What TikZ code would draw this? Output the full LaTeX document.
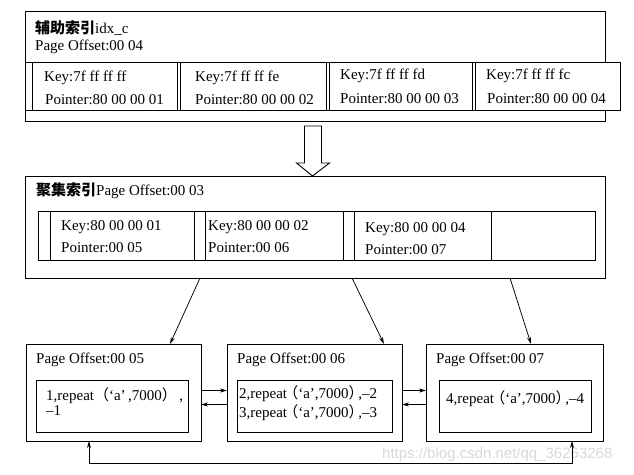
\documentclass[tikz,border=0pt]{standalone}
\usepackage{fontspec}
\setmainfont{Liberation Serif}
\newfontfamily\cjk{Noto Sans CJK SC}
\newfontfamily\wmfont{Liberation Sans}
\usetikzlibrary{arrows.meta}
\newcommand\myLP{\hspace{-0.25em}{\cjk （}}
\newcommand\myRP{{\cjk ）}\hspace{-0.35em}}
\newcommand\myLPw{{\cjk （}}
\newcommand\myRPw{{\cjk ）}}
\begin{document}
\begin{tikzpicture}[x=1pt,y=-1pt,
  box/.style={draw,line width=0.9pt,inner sep=0pt,outer sep=0pt,anchor=north west},
  txt/.style={anchor=west,inner sep=0pt,font=\fontsize{15}{16}\selectfont},
  arr/.style={-{Stealth[length=7pt,width=4pt]},line width=0.75pt},
  arrb/.style={{Stealth[length=7pt,width=4pt]}-{Stealth[length=7pt,width=4pt]},line width=0.75pt}]
\useasboundingbox (0,0) rectangle (634,474);
\fill[white] (0,0) rectangle (634,474);
% watermark
\node[anchor=west,inner sep=0pt,text=gray!30,font=\wmfont\fontsize{15}{15}\selectfont] (wm) at (382,455) {https://blog.csdn.net/qq\_36263268};
% ---------- top box ----------
\node[box,minimum width=580pt,minimum height=110pt] (top) at (25,11) {};
\node[txt] (toptitle) at (35,28) {{\cjk\bfseries 辅助索引}idx\_c};
\node[txt] (toppo) at (35,46.5) {Page Offset:00 04};
\node[box,fill=white,minimum width=595pt,minimum height=48pt] (krow) at (25,62) {};
\node[box,minimum width=145pt,minimum height=48pt] (k1) at (32,62) {};
\node[box,minimum width=146pt,minimum height=48pt] (k2) at (180,62) {};
\node[box,minimum width=143pt,minimum height=48pt] (k3) at (329,62) {};
\node[box,minimum width=145pt,minimum height=48pt] (k4) at (475,62) {};
\node[txt] (k1a) at (44,78) {Key:7f ff ff ff};
\node[txt] (k1b) at (45,100) {Pointer:80 00 00 01};
\node[txt] (k2a) at (195,78) {Key:7f ff ff fe};
\node[txt] (k2b) at (195,100) {Pointer:80 00 00 02};
\node[txt] (k3a) at (340,76) {Key:7f ff ff fd};
\node[txt] (k3b) at (340,99) {Pointer:80 00 00 03};
\node[txt] (k4a) at (486,76) {Key:7f ff ff fc};
\node[txt] (k4b) at (487,99) {Pointer:80 00 00 04};
% ---------- middle box ----------
\node[box,minimum width=580pt,minimum height=102pt] (mid) at (25,176) {};
\node[txt] (midtitle) at (36,191) {{\cjk\bfseries 聚集索引}Page Offset:00 03};
\node[box,minimum width=557pt,minimum height=49pt] (mrow) at (38,211) {};
\node[box,minimum width=144pt,minimum height=49pt] (c1) at (50,211) {};
\node[box,minimum width=138pt,minimum height=49pt] (c2) at (205,211) {};
\node[box,minimum width=137pt,minimum height=49pt] (c3) at (354,211) {};
\node[box,minimum width=104pt,minimum height=49pt] (c4) at (491,211) {};
\node[txt] (c1a) at (61,227) {Key:80 00 00 01};
\node[txt] (c1b) at (61,248) {Pointer:00 05};
\node[txt] (c2a) at (208,227) {Key:80 00 00 02};
\node[txt] (c2b) at (208,248) {Pointer:00 06};
\node[txt] (c3a) at (365,229) {Key:80 00 00 04};
\node[txt] (c3b) at (365,250) {Pointer:00 07};
% hollow arrow
\coordinate (tip) at (312.5,176);
\draw[line width=0.9pt,fill=white] (tip) -- ++(-16,-13) -- ++(8,0) -- ++(0,-37) -- ++(17,0) -- ++(0,37) -- ++(8,0) -- cycle;
% ---------- bottom boxes ----------
\node[box,minimum width=175pt,minimum height=97pt] (A) at (26,344) {};
\node[box,minimum width=152pt,minimum height=52pt] (Ai) at (36,380) {};
\node[box,minimum width=175pt,minimum height=97pt] (B) at (227,344) {};
\node[box,minimum width=155pt,minimum height=52pt] (Bi) at (237,380) {};
\node[box,minimum width=177pt,minimum height=97pt] (C) at (426,344) {};
\node[box,minimum width=152pt,minimum height=52pt] (Ci) at (439,380) {};
\node[txt] (At) at (36,360) {Page Offset:00 05};
\node[txt] (Bt) at (237,360) {Page Offset:00 06};
\node[txt] (Ct) at (436,360) {Page Offset:00 07};
\node[txt] (A1) at (46,396) {1,repeat\myLPw‘a’\,,7000\myRPw\,,};
\node[txt] (A2) at (46,411) {--1};
\node[txt] (B1) at (239,394) {2,repeat\myLP‘a’,7000\myRP,--2};
\node[txt] (B2) at (239,413) {3,repeat\myLP‘a’,7000\myRP,--3};
\node[txt] (C1) at (446,399) {4,repeat\myLP‘a’,7000\myRP,--4};
% ---------- connectors ----------
\draw[arr] ([xshift=175pt]mid.south west) -- ([xshift=144pt]A.north west);
\draw[arr] ([xshift=327pt]mid.south west) -- ([xshift=157pt]B.north west);
\draw[arr] ([xshift=485pt]mid.south west) -- ([xshift=105pt]C.north west);
\draw[arr] ([yshift=2pt]A.east) -- ([yshift=2pt]B.west);
\draw[arr] ([yshift=-12pt]B.west) -- ([yshift=-12pt]A.east);
\draw[arr] ([yshift=2pt]B.east) -- ([yshift=2pt]C.west);
\draw[arr] ([yshift=-12pt]C.west) -- ([yshift=-12pt]B.east);
\draw[arrb] ([xshift=63pt]A.south west) -- ++(0,22) -| ([xshift=146pt]C.south west);
\end{tikzpicture}
\end{document}
